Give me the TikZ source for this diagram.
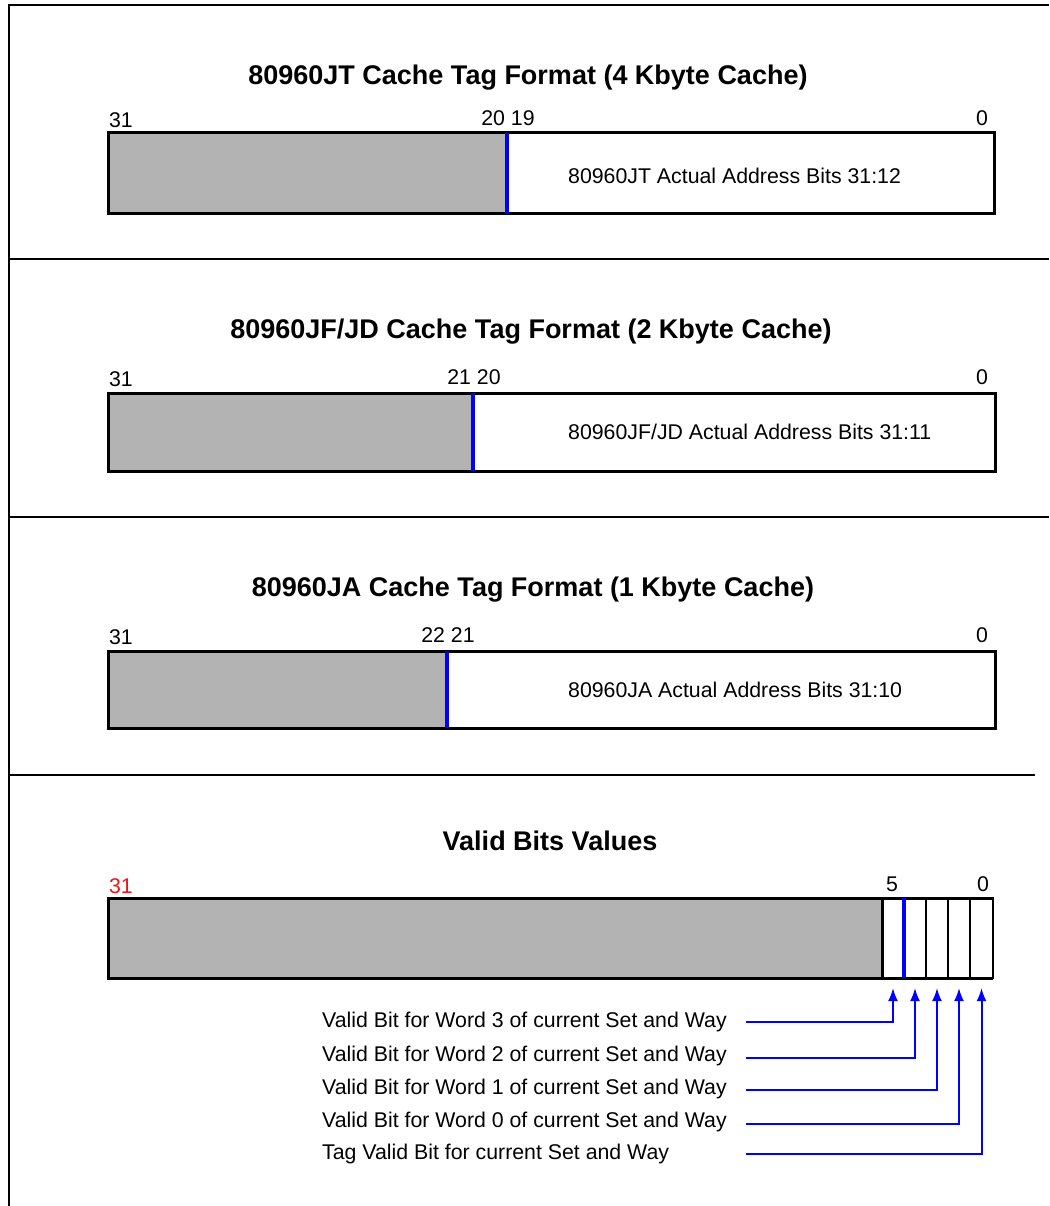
\documentclass[tikz,border=0pt]{standalone}
\usepackage{fontspec}
\setmainfont{Liberation Sans}
\usetikzlibrary{arrows.meta}
\definecolor{tagblue}{RGB}{0,0,255}
\definecolor{taggray}{RGB}{179,179,179}
\definecolor{tagred}{RGB}{240,20,20}
\tikzset{
  frameline/.style={draw=black, line width=2.5pt},
  boxline/.style={draw=black, line width=3pt},
  grayfill/.style={fill=taggray, draw=none, inner sep=0pt, outer sep=0pt, anchor=north west},
  bluediv/.style={draw=tagblue, line width=3.5pt},
  cellbox/.style={draw=black, line width=2pt, inner sep=0pt, outer sep=0pt, minimum width=22pt, minimum height=80pt, anchor=north west},
  titletext/.style={font=\fontsize{27}{31}\selectfont\bfseries, inner sep=0pt},
  bodytext/.style={font=\fontsize{21.3}{25}\selectfont, inner sep=0pt},
  bitnum/.style={font=\fontsize{21.3}{25}\selectfont, inner sep=0pt, anchor=base},
  pointer/.style={draw=tagblue, line width=2pt, -{Latex[length=13pt,width=10pt]}, shorten >=10pt}
}
\begin{document}
\begin{tikzpicture}[x=1pt,y=-1pt]
\useasboundingbox (0,0) rectangle (1049,1206);
% frame and separators
\draw[frameline] (9,1206) -- (9,5) -- (1049,5);
\draw[frameline] (9,259) -- (1049,259);
\draw[frameline] (9,517) -- (1049,517);
\draw[frameline] (9,775) -- (1035,775);

% ---------- Section 1 ----------
\node[titletext] (t1) at (528,78) {80960JT Cache Tag Format (4 Kbyte Cache)};
\node[grayfill, minimum width=399pt, minimum height=81pt] (g1) at (108,133) {};
\draw[boxline] (108,133) rectangle (994,214);
\draw[bluediv] (507,133) -- (507,214);
\node[bitnum] (n1a) at (121,128) {31};
\node[bitnum] (n1b) at (508,126) {20 19};
\node[bitnum] (n1c) at (982,126) {0};
\node[bodytext, anchor=west] (d1) at (568,176) {80960JT Actual Address Bits 31:12};

% ---------- Section 2 ----------
\node[titletext] (t2) at (531,332) {80960JF/JD Cache Tag Format (2 Kbyte Cache)};
\node[grayfill, minimum width=365pt, minimum height=78pt] (g2) at (108,393) {};
\draw[boxline] (108,393) rectangle (995,471);
\draw[bluediv] (473,393) -- (473,471);
\node[bitnum] (n2a) at (121,386) {31};
\node[bitnum] (n2b) at (474,384) {21 20};
\node[bitnum] (n2c) at (982,384) {0};
\node[bodytext, anchor=west] (d2) at (568,432) {80960JF/JD Actual Address Bits 31:11};

% ---------- Section 3 ----------
\node[titletext] (t3) at (533,590) {80960JA Cache Tag Format (1 Kbyte Cache)};
\node[grayfill, minimum width=339pt, minimum height=77pt] (g3) at (108,651) {};
\draw[boxline] (108,651) rectangle (995,728);
\draw[bluediv] (447,651) -- (447,728);
\node[bitnum] (n3a) at (121,644) {31};
\node[bitnum] (n3b) at (448,642) {22 21};
\node[bitnum] (n3c) at (982,642) {0};
\node[bodytext, anchor=west] (d3) at (568,690) {80960JA Actual Address Bits 31:10};

% ---------- Section 4 ----------
\node[titletext] (t4) at (550,841) {Valid Bits Values};
\node[grayfill, minimum width=774pt, minimum height=80pt] (g4) at (108,898) {};
\draw[boxline] (108,898) rectangle (882,978);
\node[cellbox] (c5) at (882,898) {};
\node[cellbox] (c4) at (904,898) {};
\node[cellbox] (c3) at (926,898) {};
\node[cellbox] (c2) at (948,898) {};
\node[cellbox, minimum width=23pt] (c1) at (970,898) {};
\draw[boxline] (108,898) -- (993,898);
\draw[boxline] (108,978) -- (993,978);
\draw[bluediv] (904,898) -- (904,978);
\node[bitnum, text=tagred] (n4a) at (121,893) {31};
\node[bitnum] (n4b) at (892,891) {5};
\node[bitnum] (n4c) at (983,891) {0};

% labels and pointers
\node[bodytext, anchor=west] (v3) at (322,1022) {Valid Bit for Word 3 of current Set and Way};
\node[bodytext, anchor=west] (v2) at (322,1056) {Valid Bit for Word 2 of current Set and Way};
\node[bodytext, anchor=west] (v1) at (322,1089) {Valid Bit for Word 1 of current Set and Way};
\node[bodytext, anchor=west] (v0) at (322,1122) {Valid Bit for Word 0 of current Set and Way};
\node[bodytext, anchor=west] (vt) at (322,1154) {Tag Valid Bit for current Set and Way};

\coordinate (p3) at (746,1022);
\coordinate (p2) at (746,1057.5);
\coordinate (p1) at (746,1089.5);
\coordinate (p0) at (746,1123.5);
\coordinate (pt) at (746,1153.5);

\draw[pointer] (p3) -| (c5.south);
\draw[pointer] (p2) -| (c4.south);
\draw[pointer] (p1) -| (c3.south);
\draw[pointer] (p0) -| (c2.south);
\draw[pointer] (pt) -| (c1.south);
\end{tikzpicture}
\end{document}
